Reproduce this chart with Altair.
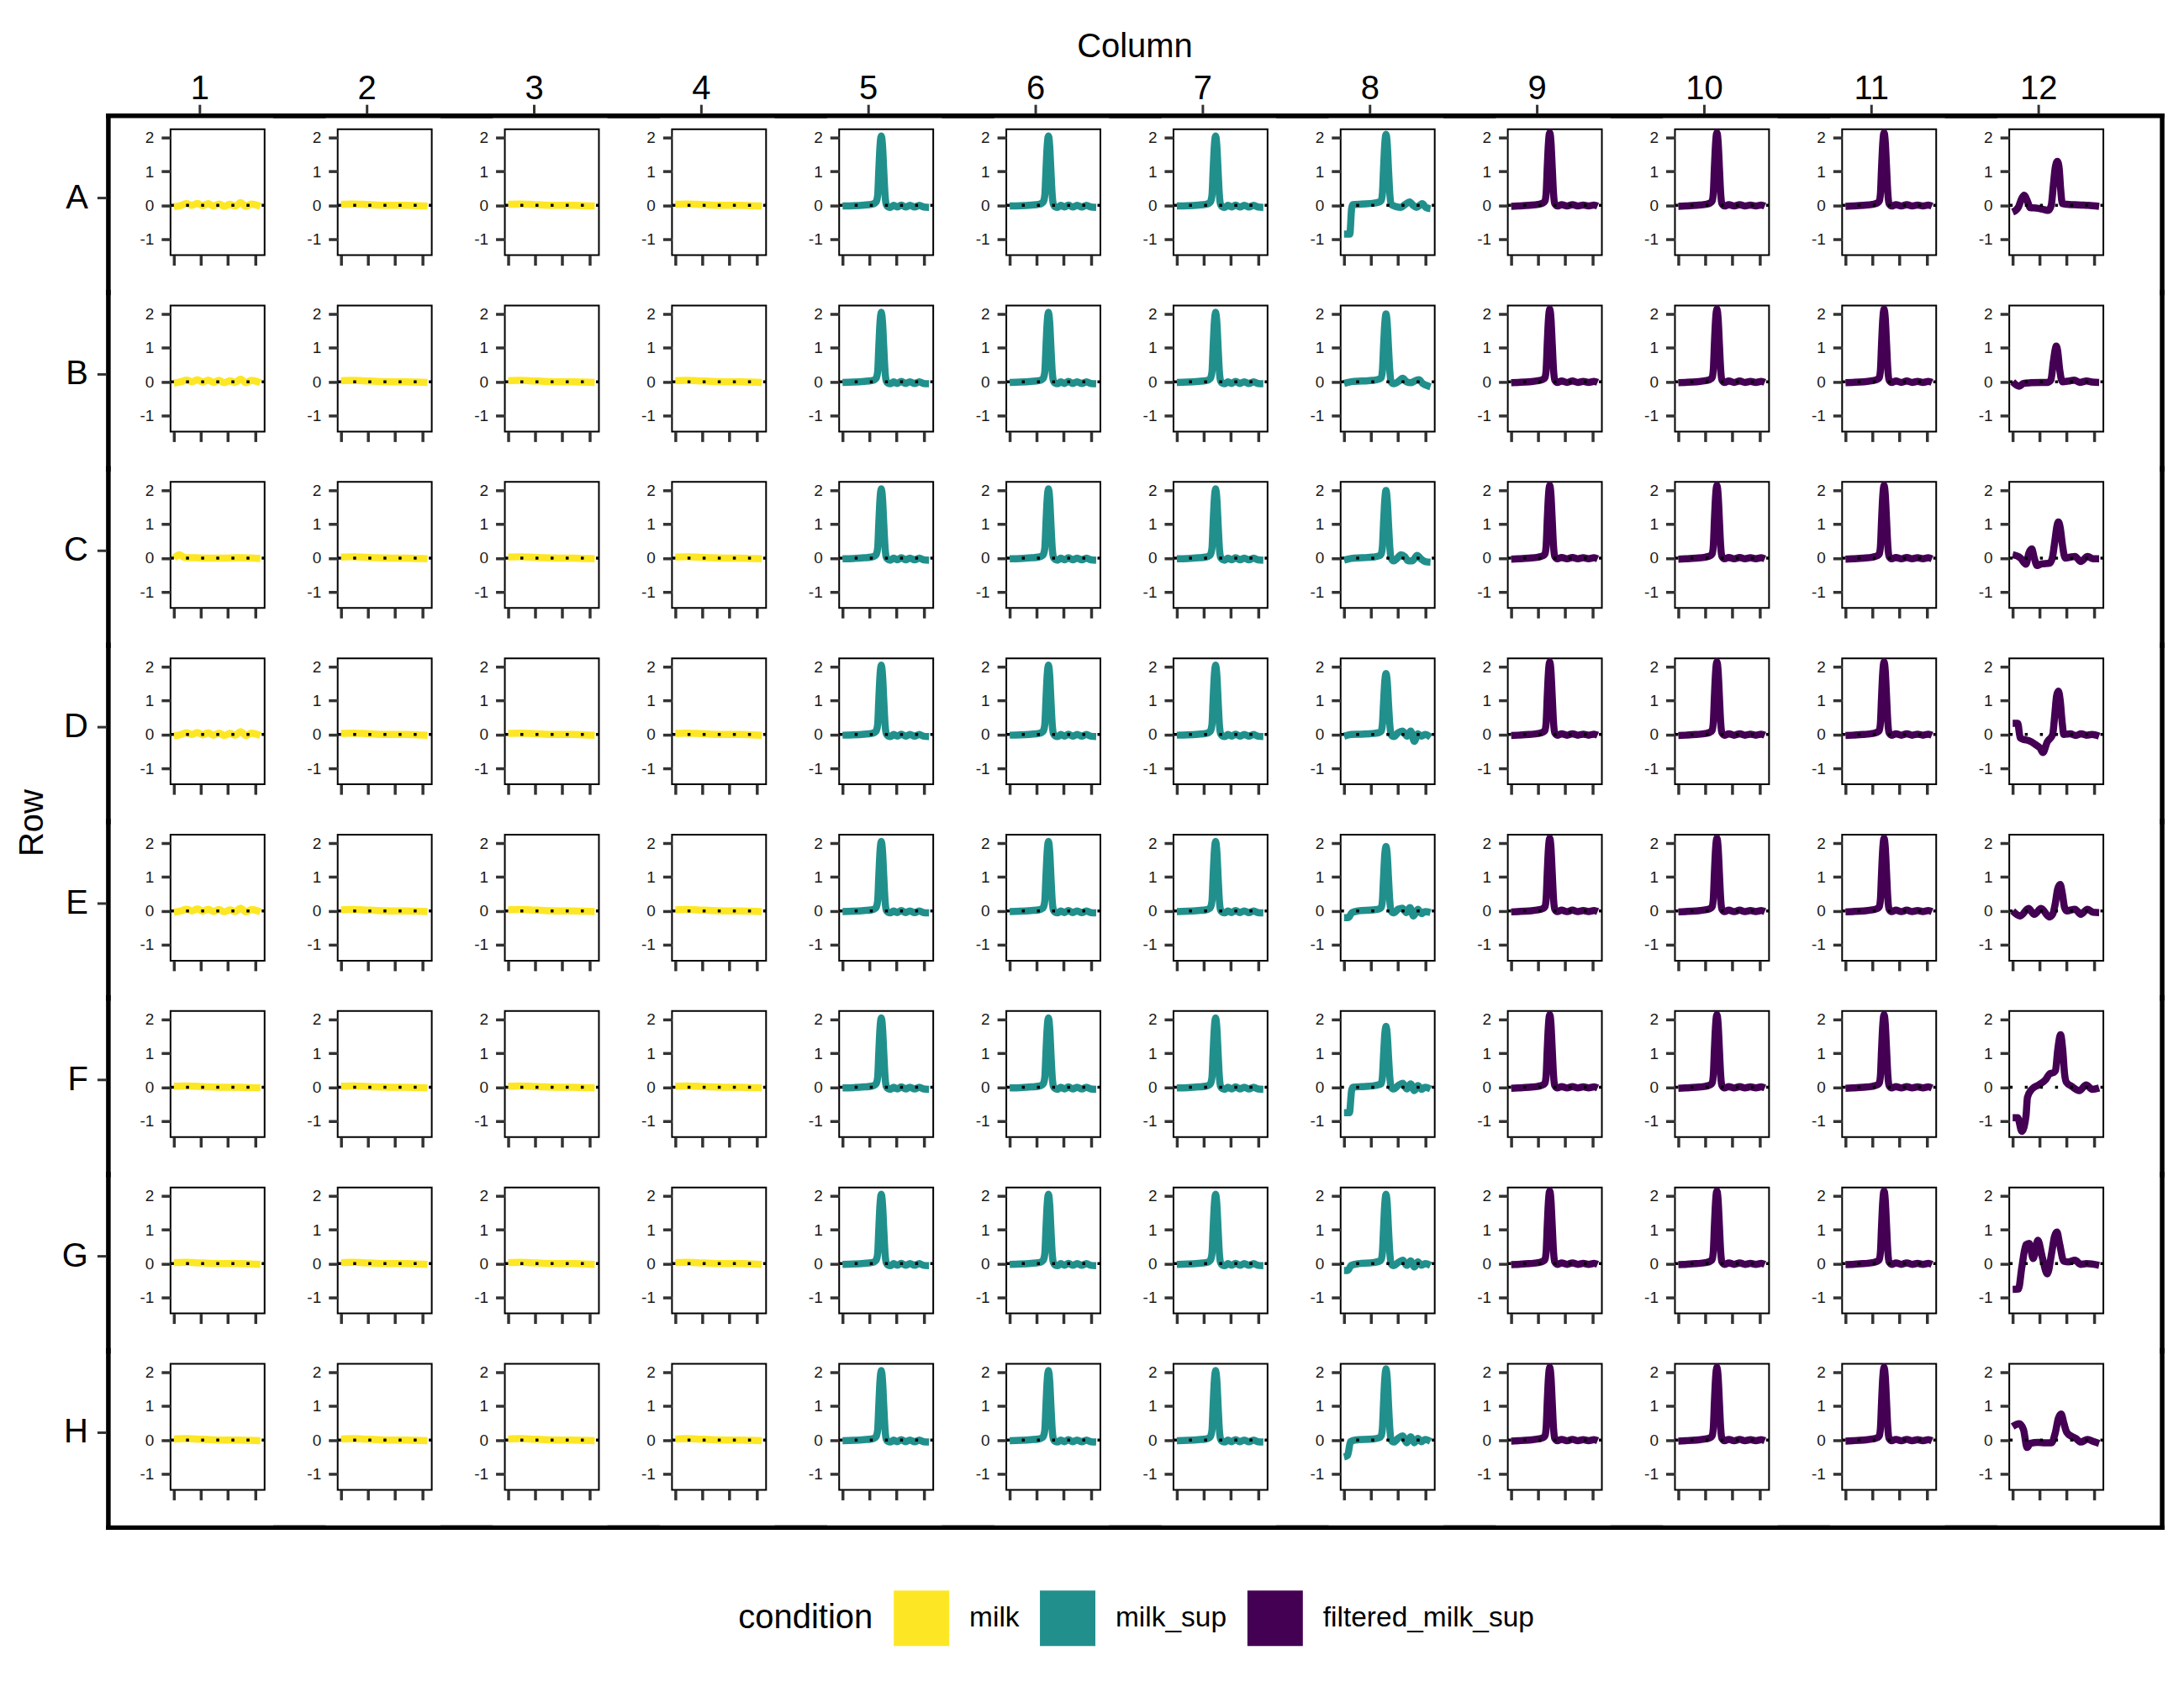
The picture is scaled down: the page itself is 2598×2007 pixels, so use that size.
import altair as alt
import pandas as pd

ROWS = ["A", "B", "C", "D", "E", "F", "G", "H"]
COLUMNS = [1, 2, 3, 4, 5, 6, 7, 8, 9, 10, 11, 12]
CONDITIONS = ["milk", "milk_sup", "filtered_milk_sup"]
CONDITION_COLORS = ["#FDE725", "#21908C", "#440154"]
COLUMN_CONDITION = ["milk", "milk", "milk", "milk",
                    "milk_sup", "milk_sup", "milk_sup", "milk_sup",
                    "filtered_milk_sup", "filtered_milk_sup", "filtered_milk_sup", "filtered_milk_sup"]
Y_TICKS = [-1, 0, 1, 2]
X_TICKS = [0, 7.5, 15, 22.5]

# curves: (time, value)
MILK_WAVY = [(0, -0.04), (2, 0.0), (3.5, 0.05), (5, 0.0), (6.5, 0.06), (8, -0.01), (9.5, 0.05), (11, -0.02),
             (12.5, 0.04), (14, -0.03), (15.5, 0.03), (17, -0.02), (18.5, 0.08), (20, -0.03), (21.5, 0.04), (24, -0.03)]
MILK_C1 = [(0, 0.0), (1.5, 0.1), (3, 0.02), (6, 0.01), (10, 0.0), (14, 0.0), (18, 0.01), (24, -0.01)]
MILK_FLAT = [(0, 0.03), (3, 0.04), (6, 0.03), (10, 0.01), (14, 0.0), (18, 0.0), (21, -0.01), (24, -0.02)]
TEAL_PEAK = [(0, -0.02), (3, -0.01), (6, 0.01), (8, 0.03), (9.0, 0.07), (9.4, 0.12), (9.75, 0.3), (10.05, 1.0),
             (10.4, 1.75), (10.75, 2.05), (11.1, 1.75), (11.45, 1.0), (11.8, 0.3), (12.15, 0.02), (12.6, -0.04),
             (13.3, -0.06), (14.2, 0.0), (15.2, -0.05), (16.3, 0.01), (17.5, -0.05), (18.7, 0.0), (20, -0.05),
             (21.3, 0.0), (22.5, -0.05), (24, -0.06)]
T8_A = [(0, -0.85), (1.6, -0.85), (2.1, -0.1), (2.4, 0.02), (5, 0.04), (8, 0.06), (9.8, 0.1), (10.3, 0.14),
        (10.65, 0.35), (10.95, 1.05), (11.3, 1.8), (11.65, 2.1), (12.0, 1.8), (12.35, 1.05), (12.7, 0.35),
        (13.05, 0.03), (14.5, -0.04), (15.8, -0.06), (17, 0.03), (18.2, 0.1), (19.2, 0.0), (20.1, -0.06),
        (21.0, 0.0), (21.7, 0.05), (22.7, -0.06), (24, -0.1)]
T8_B = [(0, -0.05), (2, 0.0), (5, 0.02), (8, 0.04), (9.8, 0.08), (10.3, 0.12), (10.65, 0.33), (10.95, 1.0),
        (11.3, 1.7), (11.65, 2.0), (12.0, 1.7), (12.35, 1.0), (12.7, 0.33), (13.05, 0.0), (13.8, -0.06),
        (15, 0.0), (16.3, 0.1), (17.3, 0.0), (18.5, -0.03), (19.8, 0.03), (20.8, 0.06), (21.8, -0.05),
        (22.7, -0.1), (24, -0.15)]
T8_C = [(0, -0.06), (2, -0.01), (5, 0.01), (8, 0.03), (9.8, 0.07), (10.3, 0.12), (10.65, 0.33), (10.95, 1.0),
        (11.3, 1.7), (11.65, 2.0), (12.0, 1.7), (12.35, 1.0), (12.7, 0.33), (13.05, 0.0), (13.8, -0.08),
        (14.8, 0.0), (15.8, 0.1), (16.8, 0.05), (17.8, -0.08), (19, -0.08), (20.3, 0.08), (21.3, -0.02),
        (22.5, -0.1), (24, -0.12)]
T8_D = [(0, -0.05), (2, 0.0), (5, 0.01), (8, 0.03), (9.8, 0.06), (10.3, 0.1), (10.65, 0.3), (10.95, 0.9),
        (11.3, 1.55), (11.65, 1.8), (12.0, 1.55), (12.35, 0.9), (12.7, 0.3), (13.05, 0.0), (13.8, -0.06),
        (15, 0.05), (16.2, 0.1), (17.5, -0.05), (18.5, 0.1), (19.5, -0.2), (20.5, 0.02), (21.5, -0.05),
        (22.5, 0.0), (24, -0.08)]
T8_E = [(0, -0.2), (1.2, -0.2), (2.2, -0.05), (4, 0.0), (8, 0.03), (9.8, 0.06), (10.3, 0.1), (10.65, 0.3),
        (10.95, 0.95), (11.3, 1.65), (11.65, 1.9), (12.0, 1.65), (12.35, 0.95), (12.7, 0.3), (13.05, 0.0),
        (13.8, -0.06), (15, 0.05), (16.2, 0.08), (17.3, -0.05), (18.3, 0.1), (19.3, -0.15), (20.5, 0.05),
        (21.5, -0.08), (22.5, -0.02), (24, -0.05)]
T8_F = [(0, -0.75), (1.5, -0.75), (2.1, -0.1), (2.5, 0.0), (5, 0.02), (8, 0.04), (9.8, 0.08), (10.3, 0.1),
        (10.65, 0.3), (10.95, 0.9), (11.3, 1.55), (11.65, 1.8), (12.0, 1.55), (12.35, 0.9), (12.7, 0.3),
        (13.05, 0.0), (13.8, -0.05), (15, 0.05), (16.3, 0.12), (17.4, -0.05), (18.5, 0.1), (19.5, -0.1),
        (20.5, 0.05), (21.5, -0.06), (22.5, 0.0), (24, -0.05)]
T8_G = [(0, -0.2), (1.0, -0.2), (2.0, -0.05), (4, 0.0), (8, 0.03), (9.8, 0.07), (10.3, 0.12), (10.65, 0.33),
        (10.95, 1.0), (11.3, 1.75), (11.65, 2.05), (12.0, 1.75), (12.35, 1.0), (12.7, 0.33), (13.05, 0.0),
        (13.8, -0.06), (15, 0.03), (16.3, 0.1), (17.4, -0.05), (18.5, 0.08), (19.5, -0.1), (20.5, 0.05),
        (21.5, -0.05), (22.5, 0.0), (24, -0.05)]
T8_H = [(0, -0.5), (1.0, -0.45), (1.8, -0.05), (3, 0.0), (8, 0.03), (9.8, 0.07), (10.3, 0.12), (10.65, 0.35),
        (10.95, 1.05), (11.3, 1.8), (11.65, 2.1), (12.0, 1.8), (12.35, 1.05), (12.7, 0.35), (13.05, 0.0),
        (13.8, -0.06), (15, 0.05), (16.3, 0.12), (17.4, -0.08), (18.5, 0.1), (19.5, -0.08), (20.5, 0.05),
        (21.5, -0.05), (22.5, 0.02), (24, -0.04)]
PURPLE_PEAK = [(0, -0.03), (2, -0.02), (5, 0.0), (7.5, 0.03), (8.8, 0.07), (9.35, 0.12), (9.7, 0.35),
               (10.0, 1.1), (10.35, 1.85), (10.7, 2.15), (11.05, 1.85), (11.4, 1.1), (11.75, 0.35),
               (12.1, 0.05), (12.8, -0.02), (14, 0.02), (15.5, -0.02), (17, 0.02), (18.5, -0.02), (20, 0.01),
               (21.5, -0.02), (23, 0.01), (24, -0.02)]
P12_A = [(0, -0.2), (1.6, -0.05), (2.5, 0.2), (3.2, 0.3), (4.0, 0.15), (4.9, -0.07), (6.5, -0.08), (8.5, -0.12),
         (9.9, -0.15), (10.7, 0.0), (11.3, 0.6), (11.8, 1.1), (12.4, 1.3), (12.9, 1.1), (13.3, 0.5), (13.8, 0.05),
         (15, 0.03), (17, 0.02), (19, 0.01), (21, 0.0), (24, -0.03)]
P12_B = [(0, 0.0), (1.8, -0.13), (3.0, -0.05), (5, -0.03), (8, -0.02), (9.6, -0.02), (10.6, 0.05), (11.3, 0.6),
         (11.8, 0.95), (12.1, 1.05), (12.5, 0.9), (13.0, 0.4), (13.8, 0.0), (15.5, 0.02), (17.1, 0.05),
         (18.6, -0.02), (20.5, 0.02), (22, -0.01), (24, -0.02)]
P12_C = [(0, 0.1), (2.2, 0.0), (3.7, -0.18), (4.5, 0.15), (5.3, 0.27), (6.0, 0.0), (6.8, -0.22), (8, -0.17),
         (10.2, -0.15), (11.0, 0.0), (11.7, 0.5), (12.3, 0.95), (12.7, 1.07), (13.2, 0.9), (13.8, 0.4),
         (14.6, 0.0), (16, 0.03), (17.3, 0.05), (18.9, -0.1), (20.8, 0.05), (22.3, -0.02), (24, -0.02)]
P12_D = [(0, 0.33), (1.4, 0.33), (2.1, -0.1), (3.2, -0.15), (4.4, -0.18), (6.4, -0.3), (7.6, -0.4), (8.4, -0.53),
         (9.6, -0.22), (11.1, 0.0), (11.7, 0.6), (12.2, 1.15), (12.7, 1.28), (13.2, 1.0), (13.7, 0.4),
         (14.2, 0.0), (16, 0.02), (17.5, -0.03), (19, 0.02), (20.5, -0.02), (22, 0.0), (24, -0.05)]
P12_E = [(0, 0.0), (2.1, -0.15), (4.4, 0.07), (6.0, -0.1), (7.9, 0.07), (10.2, -0.18), (11.1, -0.1),
         (11.8, 0.2), (12.5, 0.65), (13.2, 0.78), (13.8, 0.5), (14.4, 0.1), (15.0, 0.0), (17.3, 0.05),
         (18.9, -0.1), (20.8, 0.05), (22.3, -0.04), (24, -0.05)]
P12_F = [(0, -0.9), (1.4, -0.9), (2.55, -1.3), (3.7, -0.85), (4.1, -0.3), (5.3, -0.06), (7.2, 0.07), (9.2, 0.23),
         (10.3, 0.4), (11.5, 0.44), (11.9, 0.5), (12.5, 1.1), (13.3, 1.55), (13.9, 1.1), (14.4, 0.4),
         (14.9, 0.15), (16.5, 0.02), (18.5, -0.1), (20.4, 0.07), (22.1, -0.06), (24, -0.02)]
P12_G = [(0, -0.76), (1.6, -0.75), (2.55, -0.1), (3.7, 0.56), (4.6, 0.6), (5.7, 0.15), (7.0, 0.69), (8.2, 0.2),
         (9.6, -0.3), (10.8, 0.3), (11.6, 0.8), (12.3, 0.93), (13.0, 0.6), (14.2, 0.07), (15.5, 0.05),
         (17.3, 0.1), (18.9, -0.02), (20.5, 0.0), (24, -0.05)]
P12_H = [(0, 0.4), (1.8, 0.48), (3.0, 0.31), (4.0, -0.22), (4.9, -0.1), (7, -0.07), (9, -0.08), (10.8, -0.08),
         (11.8, 0.2), (12.7, 0.65), (13.45, 0.77), (14.2, 0.5), (15.0, 0.23), (16.5, 0.1), (17.5, 0.05),
         (18.9, -0.06), (20.8, 0.02), (22.3, -0.04), (24, -0.1)]

CURVES = {
    "milk_wavy": MILK_WAVY, "milk_c1": MILK_C1, "milk_flat": MILK_FLAT, "teal": TEAL_PEAK,
    "t8a": T8_A, "t8b": T8_B, "t8c": T8_C, "t8d": T8_D, "t8e": T8_E, "t8f": T8_F, "t8g": T8_G, "t8h": T8_H,
    "purple": PURPLE_PEAK, "p12a": P12_A, "p12b": P12_B, "p12c": P12_C, "p12d": P12_D, "p12e": P12_E,
    "p12f": P12_F, "p12g": P12_G, "p12h": P12_H,
}
M, F = "milk_wavy", "milk_flat"
PLATE = {
    "A": [M, F, F, F, "teal", "teal", "teal", "t8a", "purple", "purple", "purple", "p12a"],
    "B": [M, F, F, F, "teal", "teal", "teal", "t8b", "purple", "purple", "purple", "p12b"],
    "C": ["milk_c1", F, F, F, "teal", "teal", "teal", "t8c", "purple", "purple", "purple", "p12c"],
    "D": [M, F, F, F, "teal", "teal", "teal", "t8d", "purple", "purple", "purple", "p12d"],
    "E": [M, F, F, F, "teal", "teal", "teal", "t8e", "purple", "purple", "purple", "p12e"],
    "F": [F, F, F, F, "teal", "teal", "teal", "t8f", "purple", "purple", "purple", "p12f"],
    "G": [F, F, F, F, "teal", "teal", "teal", "t8g", "purple", "purple", "purple", "p12g"],
    "H": [F, F, F, F, "teal", "teal", "teal", "t8h", "purple", "purple", "purple", "p12h"],
}

records = []
for r in ROWS:
    for ci, c in enumerate(COLUMNS):
        for t, v in CURVES[PLATE[r][ci]]:
            records.append({"Row": r, "Column": c, "condition": COLUMN_CONDITION[ci], "t": t, "value": v})
df = pd.DataFrame(records)

W, H = 112, 150
FONT = "Liberation Sans"

x_enc = alt.X("t:Q", scale=alt.Scale(domain=[-0.94, 25.17], nice=False, zero=False),
              axis=alt.Axis(values=X_TICKS, labels=False, ticks=True, tickSize=12, tickWidth=3.5,
                            tickColor="#333333", domain=False, grid=False, title=None))
y_enc = alt.Y("value:Q", scale=alt.Scale(domain=[-1.47, 2.25], nice=False, zero=False),
              axis=alt.Axis(values=Y_TICKS, labelFontSize=19, labelColor="#1a1a1a", labelPadding=9,
                            labelExpr="'' + datum.value",
                            tickSize=11, tickWidth=3.5, tickColor="#333333", domain=False, grid=False,
                            title=None))

# the line colour scale lists the same conditions in reverse order so that it stays a separate scale
lines = alt.Chart().mark_line(strokeWidth=8.5, interpolate="monotone", strokeJoin="round", strokeCap="butt").encode(
    x=x_enc, y=y_enc,
    color=alt.Color("condition:N", scale=alt.Scale(domain=CONDITIONS[::-1], range=CONDITION_COLORS[::-1]),
                    legend=None),
)

zero_rule = alt.Chart().transform_aggregate(n="count()", groupby=["Row", "Column"]).mark_rule(
    color="black", strokeWidth=3.5, strokeDash=[3.5, 14.5]).encode(y=alt.datum(0))


def cells(expr):
    return alt.Chart().transform_filter(expr).transform_aggregate(n="count()", groupby=["Row", "Column"])


FRAME = dict(color="black", strokeWidth=5.5, strokeCap="square")
top_border = cells("datum.Row == 'A'").mark_rule(**FRAME).encode(
    x=alt.value(-74), x2=alt.value(182), y=alt.value(-16))
bottom_border = cells("datum.Row == 'H'").mark_rule(**FRAME).encode(
    x=alt.value(-74), x2=alt.value(182), y=alt.value(195))
left_border = cells("datum.Column == 1").mark_rule(**FRAME).encode(
    x=alt.value(-74), y=alt.value(-16), y2=alt.value(195))
right_border = cells("datum.Column == 12").mark_rule(**FRAME).encode(
    x=alt.value(182), y=alt.value(-16), y2=alt.value(195))
col_ticks = cells("datum.Row == 'A'").mark_rule(color="#333333", strokeWidth=3).encode(
    x=alt.value(35), y=alt.value(-18), y2=alt.value(-29))
row_ticks = cells("datum.Column == 1").mark_rule(color="#333333", strokeWidth=3).encode(
    x=alt.value(-76), x2=alt.value(-87), y=alt.value(82))
col_labels = cells("datum.Row == 'A'").mark_text(fontSize=40, align="center", baseline="alphabetic",
                                                 color="black").encode(
    x=alt.value(35), y=alt.value(-36), text="Column:N")
row_labels = cells("datum.Column == 1").mark_text(fontSize=40, align="right", baseline="middle",
                                                  color="black").encode(
    x=alt.value(-98), y=alt.value(82), text="Row:N")
col_title = cells("datum.Row == 'A' && datum.Column == 6").mark_text(
    fontSize=40, align="center", baseline="alphabetic", color="black").encode(
    x=alt.value(153), y=alt.value(-86), text=alt.value("Column"))
row_title = cells("datum.Row == 'D' && datum.Column == 1").mark_text(
    fontSize=40, align="center", baseline="middle", angle=270, color="black").encode(
    x=alt.value(-164), y=alt.value(196), text=alt.value("Row"))
canvas = cells("datum.Row == 'A' && datum.Column == 1").mark_rule(opacity=0, strokeWidth=1).encode(
    x=alt.value(-202), y=alt.value(-152), x2=alt.value(2396), y2=alt.value(1855))

legend_layer = alt.Chart().transform_filter("false").mark_square(filled=True, size=100).encode(
    fill=alt.Fill("condition:N", scale=alt.Scale(domain=CONDITIONS, range=CONDITION_COLORS),
                  legend=alt.Legend(title="condition", orient="none", legendX=676, legendY=1740,
                                    direction="horizontal", titleOrient="left", titleAnchor="middle",
                                    titleBaseline="middle", titleFontSize=40, titleFontWeight="normal",
                                    titleColor="black", titlePadding=24, labelFontSize=33.5,
                                    labelColor="black", labelOffset=24, symbolType="square",
                                    symbolSize=4356, symbolStrokeWidth=0, symbolOpacity=1,
                                    columnPadding=24, padding=0, labelLimit=0, titleLimit=0)),
)

cell = alt.layer(lines, zero_rule, top_border, bottom_border, left_border, right_border, col_ticks,
                 row_ticks, col_labels, row_labels, col_title, row_title, canvas, legend_layer,
                 data=df).properties(width=W, height=H)

chart = cell.facet(
    row=alt.Row("Row:N", sort=ROWS, title=None, header=alt.Header(labels=False)),
    column=alt.Column("Column:O", sort=COLUMNS, title=None, header=alt.Header(labels=False)),
    spacing={"row": 60, "column": 87},
    bounds="flush",
).resolve_axis(x="independent", y="independent").properties(padding=0).configure(
    font=FONT).configure_view(fill="#EBEBEB", stroke="black", strokeWidth=2)

chart.save("out.html", embed_options={"renderer": "svg", "actions": False})
